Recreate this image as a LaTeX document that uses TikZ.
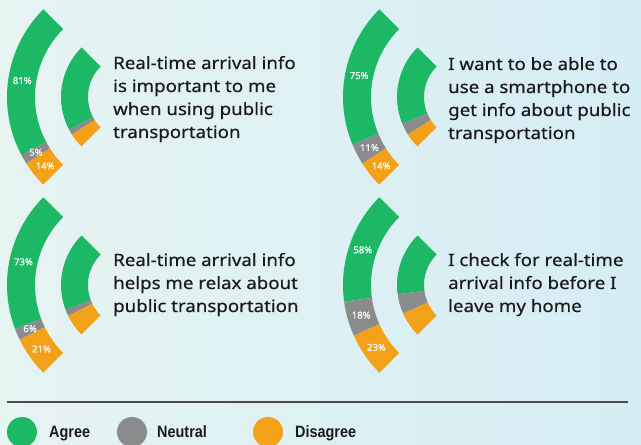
\documentclass[tikz,border=0pt]{standalone}
\usepackage{fontspec}
\setmainfont{Noto Sans}
\newfontfamily\qfont{Noto Sans}[FakeStretch=1.1, FakeBold=0.4]
\newfontfamily\pfont{Noto Sans}[FakeBold=0.3]
\newfontfamily\legfont{Liberation Sans}[BoldFeatures={FakeStretch=0.88}]
\definecolor{agree}{HTML}{1DB865}
\definecolor{neutral}{HTML}{8A8B8D}
\definecolor{disagree}{HTML}{F4A11A}
\definecolor{bgA}{HTML}{E6F4F2}
\definecolor{bgB}{HTML}{D5EDF4}
\definecolor{rulec}{HTML}{4A4A4A}
\definecolor{txt}{HTML}{1A1A1A}
\tikzset{
  qtext/.style={anchor=base west, align=left, inner sep=0pt, text=txt,
    font=\qfont\fontsize{17}{23}\selectfont},
  pct/.style={text=white, inner sep=0pt, font=\pfont\fontsize{9.5}{10}\selectfont},
  legdot/.style={circle, minimum size=30pt, inner sep=0pt},
  legtext/.style={anchor=base west, inner sep=0pt, text=txt,
    font=\legfont\bfseries\fontsize{16.4}{18}\selectfont},
}
% #1 cx, #2 cy, #3 agree, #4 neutral, #5 disagree, #6 name prefix
\newcommand{\wifichart}[6]{%
  \pgfmathsetmacro{\wtot}{#3+#4+#5}%
  \pgfmathsetmacro{\wA}{135+90*#3/\wtot}%
  \pgfmathsetmacro{\wN}{\wA+90*#4/\wtot}%
  \pgfmathsetmacro{\mA}{(135+\wA)/2}%
  \pgfmathsetmacro{\mN}{(\wA+\wN)/2}%
  \pgfmathsetmacro{\mD}{(\wN+225)/2}%
  \begin{scope}[shift={(#1pt,#2pt)}]
    \foreach \ri/\ro in {96/124,43/70}{%
      \fill[agree] (135:\ri pt) -- (135:\ro pt) arc[start angle=135,end angle=\wA,radius=\ro pt] -- (\wA:\ri pt) arc[start angle=\wA,end angle=135,radius=\ri pt] -- cycle;
      \fill[neutral] (\wA:\ri pt) -- (\wA:\ro pt) arc[start angle=\wA,end angle=\wN,radius=\ro pt] -- (\wN:\ri pt) arc[start angle=\wN,end angle=\wA,radius=\ri pt] -- cycle;
      \fill[disagree] (\wN:\ri pt) -- (\wN:\ro pt) arc[start angle=\wN,end angle=225,radius=\ro pt] -- (225:\ri pt) arc[start angle=225,end angle=\wN,radius=\ri pt] -- cycle;
    }
    \node[pct] (#6a) at (\mA:110pt) {#3\%};
    \node[pct] (#6n) at (\mN:110pt) {#4\%};
    \node[pct] (#6d) at (\mD:110pt) {#5\%};
  \end{scope}}
\begin{document}
\begin{tikzpicture}[x=1pt,y=1pt]
  \useasboundingbox (0,0) rectangle (641,445);
  \clip (0,0) rectangle (641,445);
  \shade[left color=bgA, right color=bgB] (0,0) rectangle (641,445);

  \wifichart{131}{348}{81}{5}{14}{c1}
  \wifichart{467}{348}{75}{11}{14}{c2}
  \wifichart{131}{160}{73}{6}{21}{c3}
  \wifichart{467}{160}{58}{18}{23}{c4}

  % base anchor of a multi-line node lies on its last line
  \node[qtext] (t1) at (113,307) {Real-time arrival info\\is important to me\\when using public\\transportation};
  \node[qtext] (t2) at (448,306) {I want to be able to\\use a smartphone to\\get info about public\\transportation};
  \node[qtext] (t3) at (113,133) {Real-time arrival info\\helps me relax about\\public transportation};
  \node[qtext] (t4) at (448,133) {I check for real-time\\arrival info before I\\leave my home};

  \coordinate (r1) at (7,43);
  \coordinate (r2) at (628,43);
  \draw[rulec, line width=1.2pt] (r1) -- (r2);

  \node[legdot, fill=agree] (lg1) at (22,13) {};
  \node[legdot, fill=neutral] (lg2) at (132,13) {};
  \node[legdot, fill=disagree] (lg3) at (268,13) {};
  \node[legtext] (lt1) at (49,7) {Agree};
  \node[legtext] (lt2) at (157,7) {Neutral};
  \node[legtext] (lt3) at (295,7) {Disagree};
\end{tikzpicture}
\end{document}
